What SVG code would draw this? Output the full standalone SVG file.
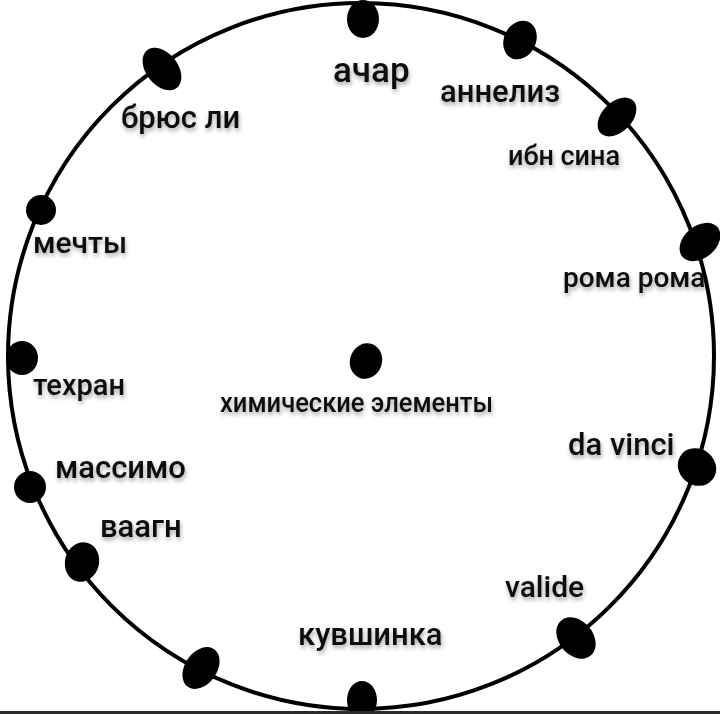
<svg xmlns="http://www.w3.org/2000/svg" width="720" height="714" viewBox="0 0 720 714">
<defs>
<filter id="sh" x="-10%" y="-30%" width="120%" height="180%">
<feDropShadow dx="1" dy="3" stdDeviation="2" flood-color="#000" flood-opacity="0.35"/>
</filter>
<style>
.lbl{font-family:Roboto,"Liberation Sans","DejaVu Sans",sans-serif;fill:#111;filter:url(#sh);font-weight:500}
.dot{fill:#000}
.ring{fill:none;stroke:#000;stroke-width:4}
</style>
</defs>
<rect width="720" height="714" fill="#fff"/>
<g id="connectors">
<circle class="ring" cx="361" cy="356" r="353"/>
</g>
<g id="n-achar"><ellipse class="dot" cx="363" cy="19" rx="16" ry="19"/><text class="lbl" x="333" y="82" font-size="35">ачар</text></g>
<g id="n-bruce"><ellipse class="dot" cx="162" cy="69" rx="24" ry="16" transform="rotate(52 162 69)"/><text class="lbl" x="121" y="128" font-size="31">брюс ли</text></g>
<g id="n-annelis"><ellipse class="dot" cx="520" cy="40" rx="16" ry="20" transform="rotate(25 520 40)"/><text class="lbl" x="440" y="102" font-size="31">аннелиз</text></g>
<g id="n-ibnsina"><ellipse class="dot" cx="617" cy="117" rx="23" ry="15" transform="rotate(-45 617 117)"/><text class="lbl" x="508" y="165" font-size="27">ибн сина</text></g>
<g id="n-mechty"><circle class="dot" cx="41" cy="210" r="15"/><text class="lbl" x="33" y="253" font-size="30">мечты</text></g>
<g id="n-roma"><ellipse class="dot" cx="700" cy="242" rx="23" ry="16" transform="rotate(-40 700 242)"/><text class="lbl" x="563" y="287" font-size="28">рома рома</text></g>
<g id="n-center"><ellipse class="dot" cx="366" cy="361" rx="16" ry="18" transform="rotate(20 366 361)"/><text class="lbl" x="220" y="412" font-size="27" textLength="273" lengthAdjust="spacingAndGlyphs">химические элементы</text></g>
<g id="n-tehran"><ellipse class="dot" cx="22" cy="358" rx="16" ry="17"/><text class="lbl" x="33" y="395" font-size="29">техран</text></g>
<g id="n-davinci"><ellipse class="dot" cx="697" cy="467" rx="20" ry="18" transform="rotate(40 697 467)"/><text class="lbl" x="568" y="455" font-size="31">da vinci</text></g>
<g id="n-massimo"><ellipse class="dot" cx="30" cy="487" rx="16" ry="16"/><text class="lbl" x="55" y="478" font-size="31">массимо</text></g>
<g id="n-vaagn"><ellipse class="dot" cx="82" cy="562" rx="17" ry="20" transform="rotate(15 82 562)"/><text class="lbl" x="100" y="537" font-size="31">ваагн</text></g>
<g id="n-valide"><ellipse class="dot" cx="576" cy="638" rx="23" ry="17" transform="rotate(50 576 638)"/><text class="lbl" x="505" y="597" font-size="30">valide</text></g>
<g id="n-kuvshinka"><ellipse class="dot" cx="201" cy="668" rx="23" ry="16" transform="rotate(-55 201 668)"/><text class="lbl" x="298" y="645" font-size="31">кувшинка</text></g>
<g id="n-bottom"><ellipse class="dot" cx="362" cy="700" rx="15" ry="19"/></g>
<rect x="0" y="711" width="720" height="3" fill="#2b2b2b"/>
</svg>
